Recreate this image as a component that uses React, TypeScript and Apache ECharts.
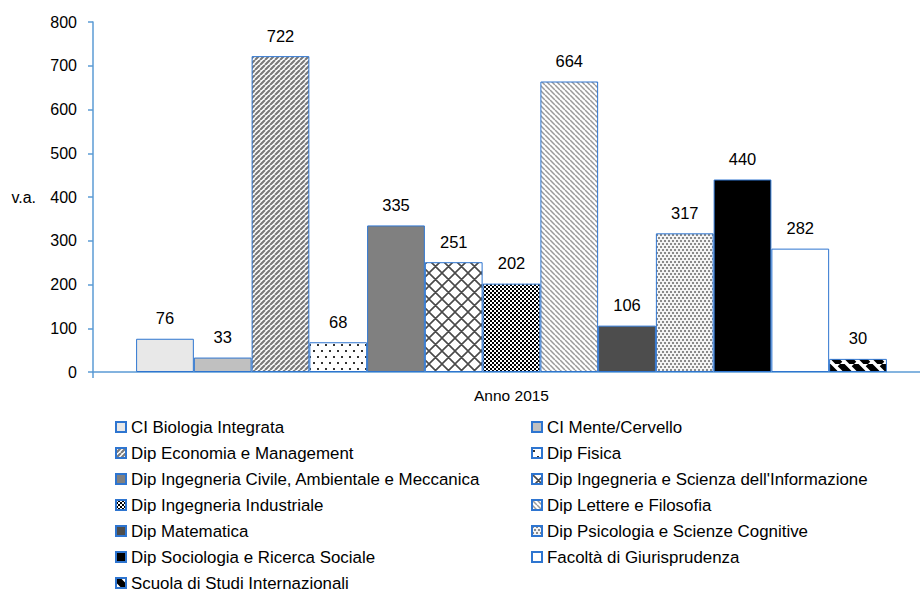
import React, { useEffect, useRef } from "react";
import * as echarts from "echarts";

const categories = ["Anno 2015"];
const seriesNames = [
  "CI Biologia Integrata",
  "CI Mente/Cervello",
  "Dip Economia e Management",
  "Dip Fisica",
  "Dip Ingegneria Civile, Ambientale e Meccanica",
  "Dip Ingegneria e Scienza dell'Informazione",
  "Dip Ingegneria Industriale",
  "Dip Lettere e Filosofia",
  "Dip Matematica",
  "Dip Psicologia e Scienze Cognitive",
  "Dip Sociologia e Ricerca Sociale",
  "Facoltà di Giurisprudenza",
  "Scuola di Studi Internazionali",
];
const seriesValues = [76, 33, 722, 68, 335, 251, 202, 664, 106, 317, 440, 282, 30];
const yMin = 0;
const yMax = 800;
const yInterval = 100;
const yAxisName = "v.a.";

const FONT = "'Liberation Sans', Arial, sans-serif";

function tile(w: number, h: number, draw: (ctx: CanvasRenderingContext2D) => void) {
  const c = document.createElement("canvas");
  c.width = w;
  c.height = h;
  const ctx = c.getContext("2d") as CanvasRenderingContext2D;
  draw(ctx);
  return c;
}

function stripes(p: number, dir: "/" | "\\", color: string, width: number, bg: string) {
  return tile(p, p, (ctx) => {
    ctx.fillStyle = bg;
    ctx.fillRect(0, 0, p, p);
    ctx.strokeStyle = color;
    ctx.lineWidth = width;
    ctx.beginPath();
    for (let k = -1; k <= 1; k++) {
      if (dir === "/") {
        ctx.moveTo(k * p, p);
        ctx.lineTo(k * p + p, 0);
      } else {
        ctx.moveTo(k * p, 0);
        ctx.lineTo(k * p + p, p);
      }
    }
    ctx.stroke();
  });
}

function makeFills(): any[] {
  const pat = (c: HTMLCanvasElement) => ({ image: c, repeat: "repeat" });
  const economia = stripes(5, "/", "#7a7a7a", 2.2, "#ffffff");
  const fisica = tile(8, 12, (ctx) => {
    ctx.fillStyle = "#ffffff";
    ctx.fillRect(0, 0, 8, 12);
    ctx.fillStyle = "#333333";
    ctx.fillRect(1, 2, 2, 2);
    ctx.fillRect(5, 8, 2, 2);
  });
  const informazione = tile(13, 13, (ctx) => {
    ctx.fillStyle = "#ffffff";
    ctx.fillRect(0, 0, 13, 13);
    ctx.strokeStyle = "#4a4a4a";
    ctx.lineWidth = 1.6;
    ctx.beginPath();
    for (let k = -1; k <= 1; k++) {
      ctx.moveTo(k * 13, 13);
      ctx.lineTo(k * 13 + 13, 0);
      ctx.moveTo(k * 13, 0);
      ctx.lineTo(k * 13 + 13, 13);
    }
    ctx.stroke();
  });
  const industriale = tile(4, 4, (ctx) => {
    ctx.fillStyle = "#000000";
    ctx.fillRect(0, 0, 4, 4);
    ctx.fillStyle = "#ffffff";
    ctx.fillRect(0, 0, 2, 2);
    ctx.fillRect(2, 2, 2, 2);
  });
  const lettere = stripes(5, "\\", "#9a9a9a", 1.5, "#ffffff");
  const psicologia = tile(4, 6, (ctx) => {
    ctx.fillStyle = "#f4f4f4";
    ctx.fillRect(0, 0, 4, 6);
    ctx.fillStyle = "#8a8a8a";
    ctx.fillRect(0, 0, 2, 2);
    ctx.fillRect(2, 3, 2, 2);
  });
  const scuola = stripes(14, "\\", "#000000", 6.5, "#ffffff");
  return [
    "#e8e8e8",
    "#c0c0c0",
    pat(economia),
    pat(fisica),
    "#808080",
    pat(informazione),
    pat(industriale),
    pat(lettere),
    "#4d4d4d",
    pat(psicologia),
    "#000000",
    "#ffffff",
    pat(scuola),
  ];
}

export default function App() {
  const ref = useRef<HTMLDivElement>(null);
  useEffect(() => {
    if (!ref.current) return;
    const chart = echarts.init(ref.current, undefined, { renderer: "svg" });
    const fills = makeFills();
    const leftNames = seriesNames.filter((_, i) => i % 2 === 0);
    const rightNames = seriesNames.filter((_, i) => i % 2 === 1);
    const legendCommon = {
      orient: "vertical",
      top: 418,
      itemWidth: 10,
      itemHeight: 10,
      itemGap: 8,
      icon: "rect",
      selectedMode: false,
      textStyle: { fontFamily: FONT, fontSize: 16.9, color: "#000", lineHeight: 18, padding: [0, 0, 0, 0] },
      padding: 0,
    };
    chart.setOption({
      animation: false,
      backgroundColor: "#ffffff",
      grid: { left: 93, right: 0, top: 22, bottom: 220, containLabel: false },
      legend: [
        { ...legendCommon, left: 115, data: leftNames },
        { ...legendCommon, left: 531, data: rightNames },
      ],
      xAxis: {
        type: "category",
        data: categories,
        axisLine: { lineStyle: { color: "#5b9bd5", width: 1.5 } },
        axisTick: { show: true, length: 6, lineStyle: { color: "#5b9bd5", width: 1.5 } },
        axisLabel: { color: "#000", fontFamily: FONT, fontSize: 15.5, margin: 15 },
      },
      yAxis: {
        type: "value",
        min: yMin,
        max: yMax,
        interval: yInterval,
        name: yAxisName,
        nameLocation: "middle",
        nameRotate: 0,
        nameGap: 57,
        nameTextStyle: { color: "#000", fontFamily: FONT, fontSize: 16 },
        axisLine: { show: true, lineStyle: { color: "#5b9bd5", width: 1.5 } },
        axisTick: { show: true, length: 5, lineStyle: { color: "#5b9bd5", width: 1.5 } },
        axisLabel: { color: "#000", fontFamily: FONT, fontSize: 16, margin: 16 },
        splitLine: { show: false },
      },
      series: seriesNames.map((name, i) => ({
        name,
        type: "bar",
        data: [seriesValues[i]],
        barGap: "0%",
        barCategoryGap: "10.3%",
        itemStyle: { color: fills[i], borderColor: "#2e75d0", borderWidth: 1 },
        label: {
          show: true,
          position: "top",
          distance: 12,
          color: "#000",
          fontFamily: FONT,
          fontSize: 16.5,
        },
      })),
    });
    return () => chart.dispose();
  }, []);
  return (
    <div style={{ position: "absolute", left: 0, top: 0, width: 920, height: 592, overflow: "hidden", background: "#fff" }}>
      <div ref={ref} style={{ width: 930, height: 592 }} />
    </div>
  );
}
